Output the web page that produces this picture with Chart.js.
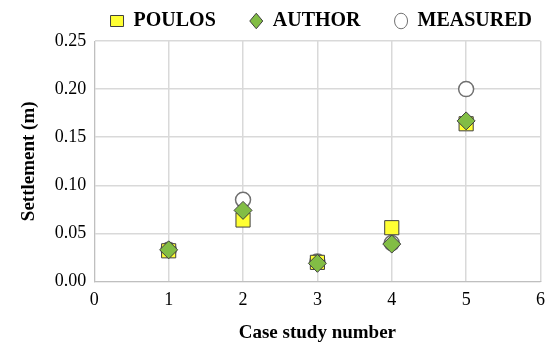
<!DOCTYPE html>
<html>
<head>
<meta charset="utf-8">
<script src="https://cdn.jsdelivr.net/npm/chart.js@4/dist/chart.umd.min.js"></script>
<style>
  html, body { margin: 0; padding: 0; background: #fff; }
  #wrap { width: 553px; height: 352px; }
</style>
</head>
<body>
<div id="wrap"><canvas id="settleChart"></canvas></div>
<script>
// Data
const caseNumbers = [1, 2, 3, 4, 5];
const poulos = [0.032, 0.064, 0.020, 0.056, 0.164];
const author = [0.033, 0.074, 0.019, 0.039, 0.167];
const measured = [0.033, 0.085, 0.021, 0.040, 0.200];
const yTicks = [0, 0.05, 0.10, 0.15, 0.20, 0.25];

const toPoints = arr => arr.map((v, i) => ({ x: caseNumbers[i], y: v }));

Chart.defaults.font.family = "'Liberation Serif', 'Times New Roman', serif";
Chart.defaults.color = '#000';

const ctx = document.getElementById('settleChart').getContext('2d');
new Chart(ctx, {
    type: 'scatter',
    data: {
        datasets: [
            {
                label: 'POULOS',
                data: toPoints(poulos),
                pointStyle: 'rect',
                pointRadius: 10,
                backgroundColor: '#ffff33',
                borderColor: '#404040',
                borderWidth: 1,
                order: 1
            },
            {
                label: 'AUTHOR',
                data: toPoints(author),
                pointStyle: 'rectRot',
                pointRadius: 9,
                backgroundColor: '#82bd45',
                borderColor: '#404040',
                borderWidth: 1,
                order: 0
            },
            {
                label: 'MEASURED',
                data: toPoints(measured),
                pointStyle: 'circle',
                pointRadius: 7.5,
                backgroundColor: '#ffffff',
                borderColor: '#707070',
                borderWidth: 1.5,
                order: 2
            }
        ]
    },
    options: {
        responsive: true,
        maintainAspectRatio: false,
        animation: false,
        layout: { padding: { top: 2, right: 12, left: 14, bottom: 4 } },
        plugins: {
            tooltip: { enabled: false },
            legend: {
                position: 'top',
                align: 'end',
                labels: {
                    usePointStyle: true,
                    pointStyleWidth: 13,
                    boxHeight: 11,
                    padding: 9,
                    font: { size: 20, weight: 'bold' },
                    generateLabels(chart) {
                        return chart.data.datasets.map((ds, i) => ({
                            text: ds.label + (i < 2 ? '     ' : ''),
                            fillStyle: ds.backgroundColor,
                            strokeStyle: ds.borderColor,
                            lineWidth: 1,
                            pointStyle: ds.pointStyle,
                            datasetIndex: i,
                            fontColor: '#000',
                            hidden: false
                        }));
                    }
                }
            }
        },
        scales: {
            x: {
                type: 'linear',
                min: 0,
                max: 6,
                ticks: {
                    stepSize: 1,
                    padding: 8,
                    font: { size: 18 }
                },
                grid: { color: '#d9d9d9', lineWidth: 1.5, drawTicks: false },
                border: { color: '#bfbfbf' },
                title: {
                    display: true,
                    text: 'Case study number',
                    padding: { top: 2 },
                    font: { size: 19, weight: 'bold' }
                }
            },
            y: {
                min: 0,
                max: 0.25,
                afterBuildTicks(axis) { axis.ticks = yTicks.map(v => ({ value: v })); },
                ticks: {
                    padding: 8,
                    font: { size: 18 },
                    callback: v => Number(v).toFixed(2)
                },
                grid: { color: '#d9d9d9', lineWidth: 1.5, drawTicks: false },
                border: { color: '#bfbfbf' },
                title: {
                    display: true,
                    text: 'Settlement (m)',
                    padding: { bottom: 6 },
                    font: { size: 19, weight: 'bold' }
                }
            }
        }
    }
});
</script>
</body>
</html>
